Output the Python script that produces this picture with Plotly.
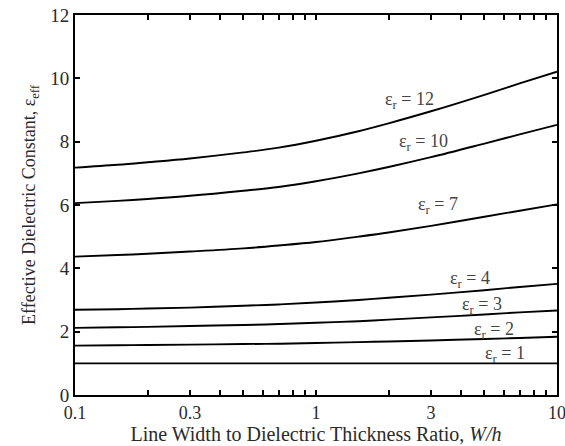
import math
import plotly.graph_objects as go

# W/h ratio values (x)
wh = [0.1, 0.15, 0.2, 0.3, 0.5, 0.7, 1, 1.5, 2, 3, 5, 7, 10]

# Effective dielectric constant for each relative permittivity
eps_r = [1, 2, 3, 4, 7, 10, 12]
eff_1 = [1.00, 1.00, 1.00, 1.00, 1.00, 1.00, 1.00, 1.00, 1.00, 1.00, 1.00, 1.00, 1.00]
eff_2 = [1.56, 1.57, 1.58, 1.59, 1.61, 1.62, 1.64, 1.67, 1.69, 1.72, 1.77, 1.80, 1.84]
eff_3 = [2.12, 2.14, 2.15, 2.18, 2.21, 2.24, 2.28, 2.33, 2.38, 2.45, 2.54, 2.61, 2.67]
eff_4 = [2.69, 2.71, 2.73, 2.76, 2.82, 2.86, 2.92, 3.00, 3.07, 3.17, 3.31, 3.41, 3.51]
eff_7 = [4.37, 4.42, 4.46, 4.53, 4.63, 4.72, 4.83, 5.00, 5.13, 5.34, 5.63, 5.82, 6.02]
eff_10 = [6.06, 6.13, 6.19, 6.29, 6.45, 6.57, 6.75, 7.00, 7.20, 7.51, 7.94, 8.23, 8.53]
eff_12 = [7.18, 7.27, 7.35, 7.47, 7.66, 7.81, 8.03, 8.33, 8.58, 8.96, 9.48, 9.84, 10.21]
series = [eff_1, eff_2, eff_3, eff_4, eff_7, eff_10, eff_12]

# Curve label anchor positions (W/h, eps_eff)
label_x = [6.1, 5.5, 4.9, 4.35, 3.2, 2.8, 2.45]
label_y = [1.29, 2.05, 2.84, 3.66, 6.0, 7.96, 9.31]

# Axis ticks
x_tickvals = [0.1, 0.2, 0.3, 0.4, 0.5, 0.6, 0.7, 0.8, 0.9, 1,
              2, 3, 4, 5, 6, 7, 8, 9, 10]
x_ticklabels = {0.1: "0.1", 0.3: "0.3", 1: "1", 3: "3", 10: "10"}
y_tickvals = [0, 2, 4, 6, 8, 10, 12]

FONT = "Liberation Serif, Times New Roman, serif"
TXT = "#2a2a2a"

fig = go.Figure()
for er, vals in zip(eps_r, series):
    fig.add_trace(go.Scatter(x=wh, y=vals, mode="lines",
                             line=dict(color="black", width=1.9, shape="spline", smoothing=1.0),
                             name=f"er={er}", showlegend=False, hoverinfo="skip"))

for er, lx, ly in zip(eps_r, label_x, label_y):
    fig.add_annotation(x=math.log10(lx), y=ly, xref="x", yref="y",
                       text=f"ε<sub>r</sub> = {er}", showarrow=False,
                       font=dict(family=FONT, size=18, color="#444"))

fig.update_layout(
    width=565, height=446,
    margin=dict(l=75, r=8, t=15, b=51),
    paper_bgcolor="white", plot_bgcolor="white",
    font=dict(family=FONT, size=18, color=TXT),
)
fig.update_xaxes(
    type="log", range=[-1, 1], automargin=False,
    tickvals=x_tickvals,
    ticktext=[x_ticklabels.get(v, "") for v in x_tickvals],
    ticklabeloverflow="allow",
    ticks="inside", ticklen=5, tickwidth=1.5, tickcolor="black",
    showline=True, linecolor="black", linewidth=2, mirror="ticks",
    showgrid=False, zeroline=False,
    tickfont=dict(family=FONT, size=18, color=TXT),
    title=dict(text="Line Width to Dielectric Thickness Ratio, <i>W/h</i>",
               font=dict(family=FONT, size=20, color=TXT), standoff=0),
)
fig.update_yaxes(
    range=[0, 12], tickvals=y_tickvals, automargin=False,
    ticklabeloverflow="allow",
    ticks="inside", ticklen=5, tickwidth=1.5, tickcolor="black",
    showline=True, linecolor="black", linewidth=2, mirror="ticks",
    showgrid=False, zeroline=False,
    tickfont=dict(family=FONT, size=19, color=TXT),
    title=dict(text="Effective Dielectric Constant, ε<sub>eff</sub>",
               font=dict(family=FONT, size=18, color=TXT), standoff=10),
)

fig.write_html("out.html")
